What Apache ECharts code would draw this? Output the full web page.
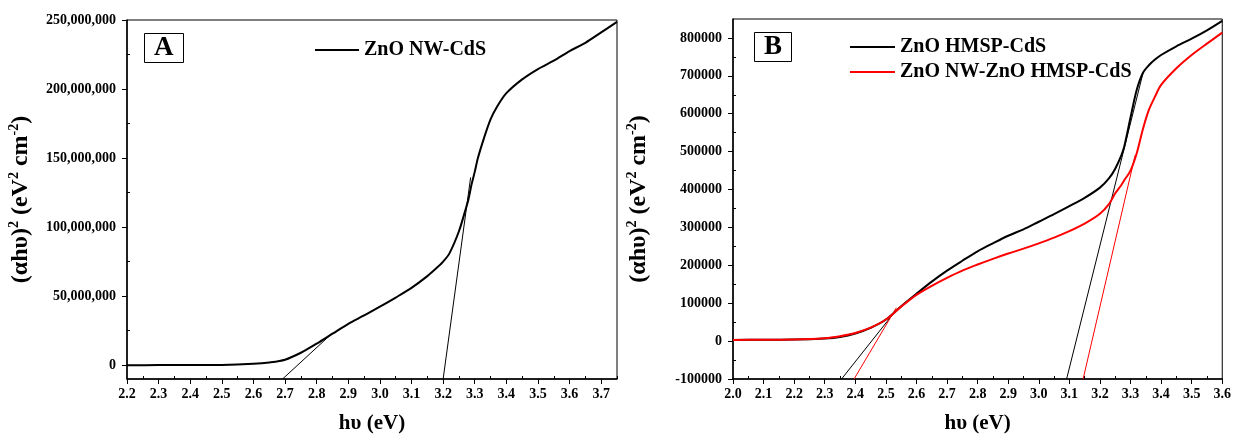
<!DOCTYPE html>
<html>
<head>
<meta charset="utf-8">
<script src="https://cdn.jsdelivr.net/npm/echarts@6/dist/echarts.min.js"></script>
<style>
  html, body { margin: 0; padding: 0; background: #fff; }
  #chart { width: 1234px; height: 439px; }
</style>
</head>
<body>
<div id="chart"></div>
<script>
// Panel A: ZnO NW-CdS
const energyA = [2.2, 2.3, 2.4, 2.5, 2.6, 2.65, 2.7, 2.75, 2.8, 2.85, 2.9, 2.95, 3.0, 3.05, 3.1, 3.15, 3.18,
    3.2, 3.22, 3.25, 3.27, 3.28, 3.29, 3.3, 3.31, 3.33, 3.35, 3.37, 3.4, 3.45, 3.5, 3.55, 3.6, 3.65, 3.7, 3.75];
const absorbA = [0, 0.05, 0.1, 0.2, 1, 2, 4, 9, 15.6, 22.8, 30, 36, 42.4, 49, 56, 64.5, 70.5,
    75, 81, 97, 112, 120, 131, 140, 150, 165, 178, 187, 197, 207, 214.5, 220.5, 227.5, 233.5, 241, 248.6]
    .map(v => v * 1e6);
const tangentA1 = [[2.692, -10e6], [2.842, 21.6e6]];
const tangentA2 = [[3.2, -10e6], [3.287, 136e6]];
const xTicksA = [2.2, 2.3, 2.4, 2.5, 2.6, 2.7, 2.8, 2.9, 3.0, 3.1, 3.2, 3.3, 3.4, 3.5, 3.6, 3.7];
const yTicksA = [0, 50e6, 100e6, 150e6, 200e6, 250e6];

// Panel B: ZnO HMSP-CdS and ZnO NW-ZnO HMSP-CdS
const energyB = [2.0, 2.1, 2.2, 2.3, 2.35, 2.4, 2.45, 2.5, 2.55, 2.6, 2.65, 2.7, 2.75, 2.8, 2.85, 2.9, 2.95,
    3.0, 3.05, 3.1, 3.15, 3.2, 3.23, 3.25, 3.27, 3.28, 3.3, 3.32, 3.34, 3.36, 3.38, 3.4, 3.45, 3.5, 3.55, 3.6];
const absorbHmsp = [3000, 3500, 4000, 7000, 11000, 20000, 35000, 57000, 92000, 125000, 157000, 186000, 212000,
    237000, 258000, 278000, 295000, 315000, 335000, 356000, 378000, 405000, 430000, 455000, 490000, 515000,
    590000, 662000, 707000, 728000, 743000, 755000, 778000, 798000, 820000, 845000];
const absorbNwHmsp = [3000, 3500, 4000, 7500, 13000, 21500, 35500, 57000, 91000, 122000, 146000, 167000, 186000,
    202000, 217000, 231000, 244000, 258000, 273000, 290000, 310000, 336000, 362000, 390000, 412000, 425000,
    450000, 495000, 558000, 610000, 645000, 676000, 720000, 755000, 785000, 814000];
const tangentB1 = [[2.355, -100000], [2.52, 68000]];
const tangentB2 = [[2.396, -100000], [2.534, 88000]];
const tangentB3 = [[3.091, -100000], [3.342, 711000]];
const tangentB4 = [[3.145, -100000], [3.315, 490000]];
const xTicksB = [2.0, 2.1, 2.2, 2.3, 2.4, 2.5, 2.6, 2.7, 2.8, 2.9, 3.0, 3.1, 3.2, 3.3, 3.4, 3.5, 3.6];
const yTicksB = [-100000, 0, 100000, 200000, 300000, 400000, 500000, 600000, 700000, 800000];

const FONT = 'Liberation Serif';

function zip(xs, ys) {
    return xs.map((x, i) => [x, ys[i]]);
}

function midpoints(ticks, last) {
    const out = [];
    for (let i = 0; i < ticks.length; i++) {
        const next = i + 1 < ticks.length ? ticks[i + 1] : last;
        if (next !== undefined) out.push((ticks[i] + next) / 2);
    }
    return out;
}

function tickFont() {
    return { fontFamily: FONT, fontWeight: 'bold', fontSize: 14, color: '#000' };
}

function mainX(grid, min, max, ticks) {
    return {
        type: 'value', gridIndex: grid, min: min, max: max, position: 'bottom',
        name: 'hυ (eV)', nameLocation: 'middle', nameGap: 34,
        nameTextStyle: { fontFamily: FONT, fontWeight: 'bold', fontSize: 21, color: '#000' },
        axisLine: { onZero: false, lineStyle: { color: '#000', width: 1.5 } },
        axisTick: { customValues: ticks, length: 5, lineStyle: { color: '#000' } },
        axisLabel: { ...tickFont(), customValues: ticks, margin: 8, formatter: v => v.toFixed(1) },
        splitLine: { show: false }
    };
}

function mainY(grid, min, max, ticks, gap, fmt) {
    return {
        type: 'value', gridIndex: grid, min: min, max: max, position: 'left',
        name: '{m|(αhυ)}{s|2}{m| (eV}{s|2}{m| cm}{s|-2}{m|)}',
        nameLocation: 'middle', nameGap: gap, nameRotate: 90,
        nameTextStyle: {
            rich: {
                m: { fontFamily: FONT, fontWeight: 'bold', fontSize: 24, lineHeight: 28, color: '#000' },
                s: { fontFamily: FONT, fontWeight: 'bold', fontSize: 14, lineHeight: 14,
                    verticalAlign: 'top', color: '#000' }
            }
        },
        axisLine: { onZero: false, lineStyle: { color: '#000', width: 1.5 } },
        axisTick: { customValues: ticks, length: 5, lineStyle: { color: '#000' } },
        axisLabel: { ...tickFont(), customValues: ticks, margin: 11, formatter: fmt },
        splitLine: { show: false }
    };
}

function minorAxis(grid, min, max, values, position) {
    return {
        type: 'value', gridIndex: grid, min: min, max: max, position: position, offset: 0,
        axisLine: { show: false, onZero: false },
        axisTick: { customValues: values, inside: true, length: 3, lineStyle: { color: '#000' } },
        axisLabel: { show: false },
        splitLine: { show: false }
    };
}

function curve(name, data, color, xi, yi) {
    return {
        name: name, type: 'line', data: data, xAxisIndex: xi, yAxisIndex: yi,
        symbol: 'none', smooth: 0.3, lineStyle: { color: color, width: 2 }, itemStyle: { color: color },
        z: 3
    };
}

function tangent(data, color, xi, yi) {
    return {
        type: 'line', data: data, xAxisIndex: xi, yAxisIndex: yi, symbol: 'none', silent: true,
        lineStyle: { color: color, width: 1 }, z: 2
    };
}

function boxTitle(text, left, top) {
    return {
        text: text, left: left, top: top, padding: [1, 10, 1, 10],
        borderColor: '#000', borderWidth: 1,
        textStyle: { fontFamily: FONT, fontWeight: 'bold', fontSize: 27, lineHeight: 28, color: '#000' }
    };
}

function legendAt(left, top, names, itemWidth) {
    return {
        left: left, top: top, orient: 'vertical', itemGap: 5, itemWidth: itemWidth, itemHeight: 2,
        icon: 'rect', data: names, selectedMode: false,
        textStyle: { fontFamily: FONT, fontWeight: 'bold', fontSize: 20, lineHeight: 20, color: '#000' }
    };
}

const chart = echarts.init(document.getElementById('chart'));

const options = {
    backgroundColor: '#fff',
    animation: false,
    title: [boxTitle('A', 144, 33), boxTitle('B', 754, 32)],
    legend: [
        legendAt(310, 35, ['ZnO NW-CdS'], 44),
        legendAt(845, 32, ['ZnO HMSP-CdS', 'ZnO NW-ZnO HMSP-CdS'], 45)
    ],
    grid: [
        { left: 127, right: 617, top: 20, bottom: 56, show: true, borderColor: '#000', borderWidth: 1 },
        { left: 733, right: 11, top: 19, bottom: 58, show: true, borderColor: '#000', borderWidth: 1 }
    ],
    xAxis: [
        mainX(0, 2.2, 3.75, xTicksA),
        minorAxis(0, 2.2, 3.75, midpoints(xTicksA, 3.8), 'bottom'),
        mainX(1, 2.0, 3.6, xTicksB),
        minorAxis(1, 2.0, 3.6, midpoints(xTicksB), 'bottom')
    ],
    yAxis: [
        mainY(0, -10e6, 250e6, yTicksA, 92, v => v.toLocaleString('en-US')),
        minorAxis(0, -10e6, 250e6, midpoints(yTicksA), 'left'),
        mainY(1, -100000, 850000, yTicksB, 80, v => String(v)),
        minorAxis(1, -100000, 850000, midpoints(yTicksB), 'left')
    ],
    series: [
        curve('ZnO NW-CdS', zip(energyA, absorbA), '#000', 0, 0),
        tangent(tangentA1, '#000', 0, 0),
        tangent(tangentA2, '#000', 0, 0),
        curve('ZnO HMSP-CdS', zip(energyB, absorbHmsp), '#000', 2, 2),
        curve('ZnO NW-ZnO HMSP-CdS', zip(energyB, absorbNwHmsp), '#ff0000', 2, 2),
        tangent(tangentB1, '#000', 2, 2),
        tangent(tangentB2, '#ff0000', 2, 2),
        tangent(tangentB3, '#000', 2, 2),
        tangent(tangentB4, '#ff0000', 2, 2)
    ]
};

chart.setOption(options);
</script>
</body>
</html>
